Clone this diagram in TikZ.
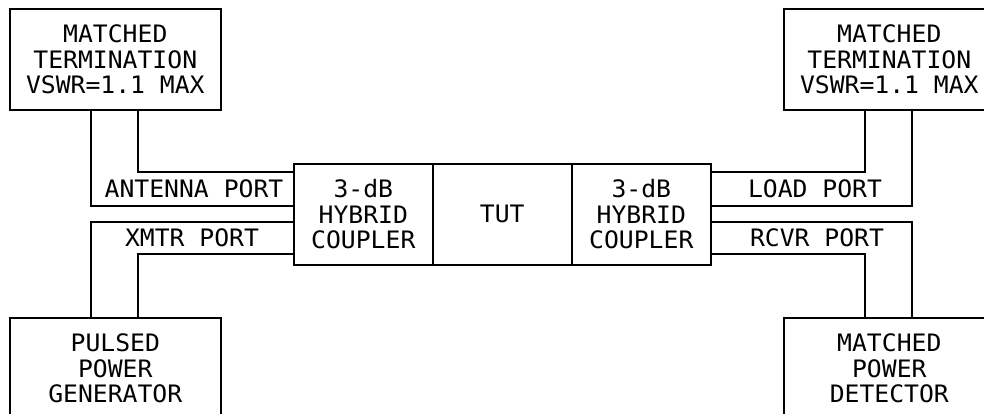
\documentclass[tikz,border=0pt]{standalone}
\usepackage{fontspec}
\newfontfamily\plotfont[FakeStretch=1.03]{DejaVu Sans Mono}
\begin{document}
\begin{tikzpicture}[x=1pt,y=-1pt,
  lw/.style={line width=1.6pt},
  boxnode/.style={draw,lw,anchor=north west,inner sep=0pt,align=center,
    font=\plotfont\fontsize{24}{25.5}\selectfont},
  bigbox/.style={boxnode,minimum width=211pt,minimum height=101pt},
  midbox/.style={boxnode,minimum width=139pt,minimum height=101pt},
  lbl/.style={inner sep=0pt,font=\plotfont\fontsize{24}{25.5}\selectfont},
  wire/.style={lw,line join=miter}]
\useasboundingbox (0,0) rectangle (984,414);
\clip (0,0) rectangle (984,414);
\fill[white] (0,0) rectangle (984,414);
% boxes
\node[bigbox] (tl) at (9,8) {MATCHED\\TERMINATION\\VSWR=1.1 MAX};
\node[bigbox] (tr) at (783,8) {MATCHED\\TERMINATION\\VSWR=1.1 MAX};
\node[bigbox] (bl) at (9,317) {PULSED\\POWER\\GENERATOR};
\node[bigbox] (br) at (783,317) {MATCHED\\POWER\\DETECTOR};
\node[midbox] (hc1) at (293,163) {3-dB\\HYBRID\\COUPLER};
\node[midbox] (tut) at (432,163) {TUT};
\node[midbox] (hc2) at (571,163) {3-dB\\HYBRID\\COUPLER};
% levels
\coordinate (ya) at (0,172);
\coordinate (yb) at (0,206);
\coordinate (yc) at (0,222);
\coordinate (yd) at (0,254);
% connectors left
\draw[wire] ([xshift=82pt]tl.south west) |- (hc1.west |- yb);
\draw[wire] ([xshift=129pt]tl.south west) |- (hc1.west |- ya);
\draw[wire] ([xshift=82pt]bl.north west) |- (hc1.west |- yc);
\draw[wire] ([xshift=129pt]bl.north west) |- (hc1.west |- yd);
% connectors right
\draw[wire] ([xshift=82pt]tr.south west) |- (hc2.east |- ya);
\draw[wire] ([xshift=129pt]tr.south west) |- (hc2.east |- yb);
\draw[wire] ([xshift=129pt]br.north west) |- (hc2.east |- yc);
\draw[wire] ([xshift=82pt]br.north west) |- (hc2.east |- yd);
% labels
\node[lbl] (ant) at (194,189) {ANTENNA PORT};
\node[lbl] (xmtr) at (192,238) {XMTR PORT};
\node[lbl] (load) at (815,189) {LOAD PORT};
\node[lbl] (rcvr) at (817,238) {RCVR PORT};
\end{tikzpicture}
\end{document}
